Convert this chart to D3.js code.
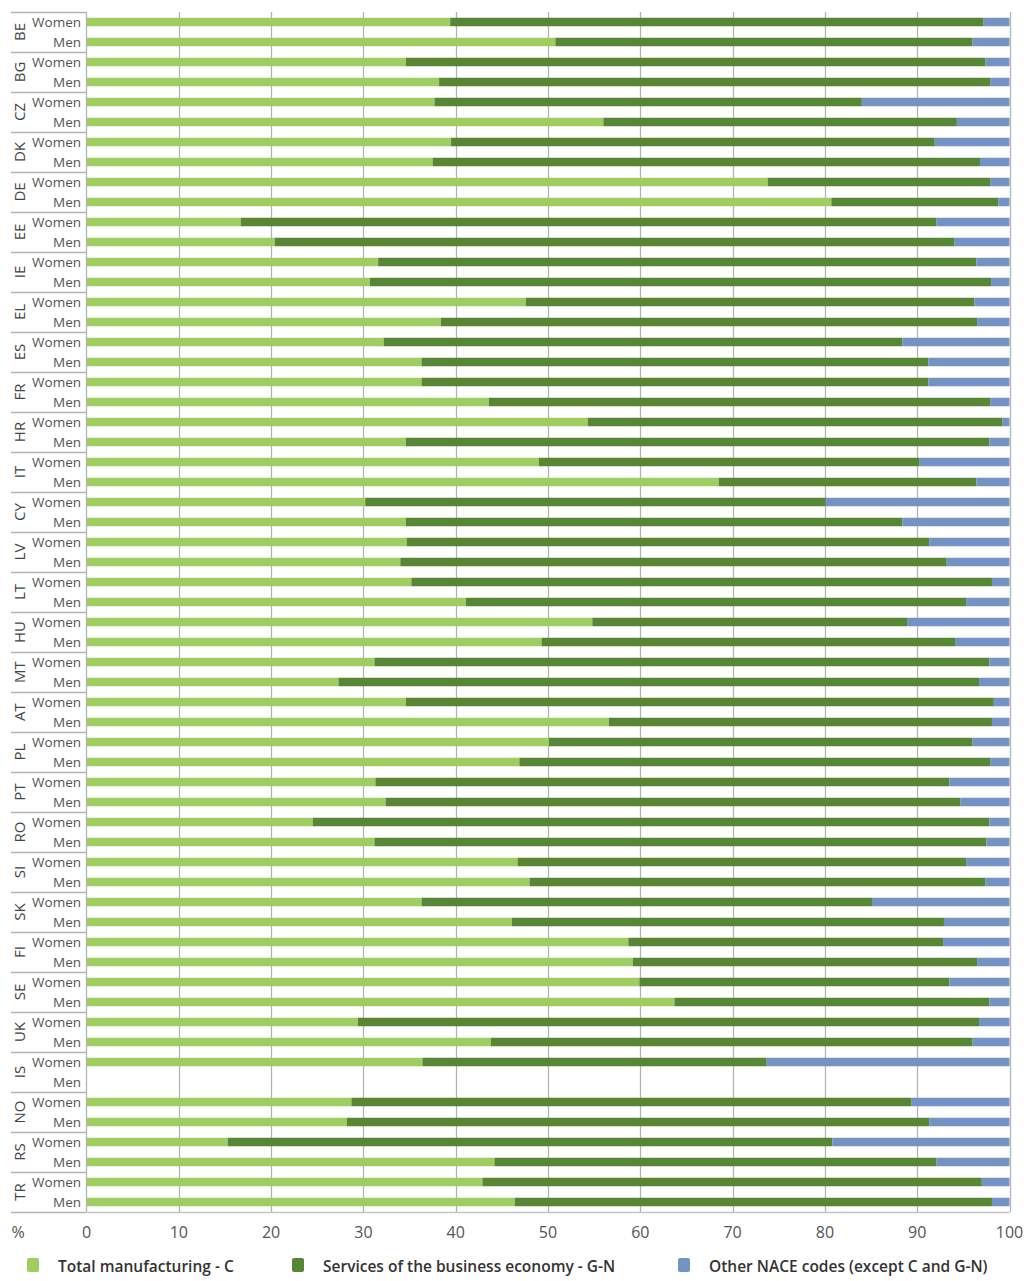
<!DOCTYPE html>
<html>
<head>
<meta charset="utf-8">
<script src="https://cdn.jsdelivr.net/npm/d3@7"></script>
<style>
  html, body { margin: 0; padding: 0; background: #ffffff; }
  svg { display: block; font-family: "Open Sans", "DejaVu Sans", sans-serif; }
</style>
</head>
<body>
<svg id="chart" width="1028" height="1281"></svg>
<script>
// ---- Data ----
const countries = ["BE","BG","CZ","DK","DE","EE","IE","EL","ES","FR","HR","IT","CY","LV","LT","HU","MT","AT","PL","PT","RO","SI","SK","FI","SE","UK","IS","NO","RS","TR"];
const sexes = ["Women", "Men"];
const seriesNames = ["Total manufacturing - C", "Services of the business economy - G-N", "Other NACE codes (except C and G-N)"];

// Values per country: [Women, Men] (percent share); null = not available
const manufacturing = [
  [39.4,50.8],[34.6,38.2],[37.7,56.0],[39.5,37.5],[73.8,80.7],[16.7,20.4],[31.6,30.7],[47.6,38.4],[32.2,36.3],[36.3,43.6],
  [54.3,34.6],[49.0,68.5],[30.2,34.6],[34.7,34.0],[35.2,41.1],[54.8,49.3],[31.2,27.3],[34.6,56.6],[50.1,46.9],[31.3,32.4],
  [24.5,31.2],[46.7,48.0],[36.3,46.1],[58.7,59.2],[59.9,63.7],[29.4,43.8],[36.4,null],[28.7,28.2],[15.3,44.2],[42.9,46.4]
];
const services = [
  [57.8,45.2],[62.8,59.7],[46.3,38.3],[52.4,59.3],[24.1,18.1],[75.4,73.6],[64.8,67.3],[48.6,58.1],[56.2,54.9],[54.9,54.3],
  [44.9,63.2],[41.2,27.9],[49.9,53.8],[56.6,59.2],[62.9,54.2],[34.1,44.8],[66.6,69.4],[63.7,41.5],[45.9,51.0],[62.2,62.3],
  [73.3,66.3],[48.6,49.4],[48.8,46.8],[34.1,37.3],[33.6,34.1],[67.3,52.2],[37.3,null],[60.7,63.1],[65.5,47.9],[54.1,51.7]
];
const other = [
  [2.8,4.0],[2.6,2.1],[16.0,5.7],[8.1,3.2],[2.1,1.2],[7.9,6.0],[3.6,2.0],[3.8,3.5],[11.6,8.8],[8.8,2.1],
  [0.8,2.2],[9.8,3.6],[19.9,11.6],[8.7,6.8],[1.9,4.7],[11.1,5.9],[2.2,3.3],[1.7,1.9],[4.0,2.1],[6.5,5.3],
  [2.2,2.5],[4.7,2.6],[14.9,7.1],[7.2,3.5],[6.5,2.2],[3.3,4.0],[26.3,null],[10.6,8.7],[19.2,7.9],[3.0,1.9]
];
const xTicks = [0,10,20,30,40,50,60,70,80,90,100];
const colors = ["#a0cd62", "#578634", "#7394c2"];

// ---- Layout ----
const svg = d3.select("#chart");
const plotLeft = 86.5, plotRight = 1009.5, plotTop = 12, plotBottom = 1212;

const rows = [];
countries.forEach((c, i) => {
  sexes.forEach((s, j) => {
    rows.push({ key: c + "|" + s, country: c, sex: s,
      vals: [manufacturing[i][j], services[i][j], other[i][j]] });
  });
});

const x = d3.scaleLinear().domain([0, 100]).range([plotLeft, plotRight]);
const y = d3.scaleBand().domain(rows.map(r => r.key)).range([plotTop, plotBottom]).paddingInner(0);
const yc = d3.scaleBand().domain(countries).range([plotTop, plotBottom]);
const barH = 8.5;

// gridlines
svg.append("g").selectAll("line").data(xTicks.slice(1)).join("line")
  .attr("x1", d => Math.round(x(d)) + 0.5).attr("x2", d => Math.round(x(d)) + 0.5)
  .attr("y1", plotTop).attr("y2", plotBottom)
  .attr("stroke", "#b4b4b4").attr("stroke-width", 1.3);

// bars
const stackG = svg.append("g");
rows.forEach(r => {
  if (r.vals[0] == null) return;
  let cum = 0;
  r.vals.forEach((v, k) => {
    stackG.append("rect")
      .attr("x", x(cum))
      .attr("y", y(r.key) + y.bandwidth() / 2 - barH / 2)
      .attr("width", x(cum + v) - x(cum))
      .attr("height", barH)
      .attr("fill", colors[k]);
    cum += v;
  });
});

// left axis line and country separators
svg.append("line").attr("x1", plotLeft).attr("x2", plotLeft).attr("y1", plotTop).attr("y2", plotBottom)
  .attr("stroke", "#b4b4b4").attr("stroke-width", 1.3);
svg.append("line").attr("x1", plotLeft).attr("x2", plotRight).attr("y1", plotBottom + 0.5).attr("y2", plotBottom + 0.5)
  .attr("stroke", "#c4c4c4").attr("stroke-width", 1.3);
svg.append("g").selectAll("line").data(countries.concat(["__end"])).join("line")
  .attr("x1", 11).attr("x2", plotLeft)
  .attr("y1", (d, i) => Math.round(plotTop + i * yc.bandwidth()) + 0.5)
  .attr("y2", (d, i) => Math.round(plotTop + i * yc.bandwidth()) + 0.5)
  .attr("stroke", "#b4b4b4").attr("stroke-width", 1.3);

// country labels (rotated)
svg.append("g").selectAll("text").data(countries).join("text")
  .attr("transform", d => `translate(19,${yc(d) + yc.bandwidth() / 2}) rotate(-90)`)
  .attr("text-anchor", "middle").attr("dominant-baseline", "central")
  .attr("font-size", 15).attr("fill", "#444")
  .text(d => d);

// sex labels
svg.append("g").selectAll("text").data(rows).join("text")
  .attr("x", 81).attr("y", d => y(d.key) + y.bandwidth() / 2)
  .attr("text-anchor", "end").attr("dominant-baseline", "central")
  .attr("font-size", 13.5).attr("fill", "#555")
  .text(d => d.sex);

// x axis tick labels
svg.append("g").selectAll("text").data(xTicks).join("text")
  .attr("x", d => x(d)).attr("y", 1232)
  .attr("text-anchor", "middle").attr("dominant-baseline", "central")
  .attr("font-size", 16).attr("fill", "#555")
  .text(d => d);
svg.append("text").attr("x", 18).attr("y", 1232)
  .attr("text-anchor", "middle").attr("dominant-baseline", "central")
  .attr("font-size", 16).attr("fill", "#555").text("%");

// legend
const legendX = [27, 292, 678];
const lg = svg.append("g").selectAll("g").data(seriesNames).join("g")
  .attr("transform", (d, i) => `translate(${legendX[i]},1265)`);
lg.append("rect").attr("x", 0).attr("y", -7).attr("width", 12).attr("height", 14)
  .attr("rx", 2).attr("fill", (d, i) => colors[i]);
lg.append("text").attr("x", 31).attr("y", 1)
  .attr("dominant-baseline", "central").attr("font-size", 15.5).attr("font-weight", 600)
  .attr("fill", "#333").text(d => d);
</script>
</body>
</html>
